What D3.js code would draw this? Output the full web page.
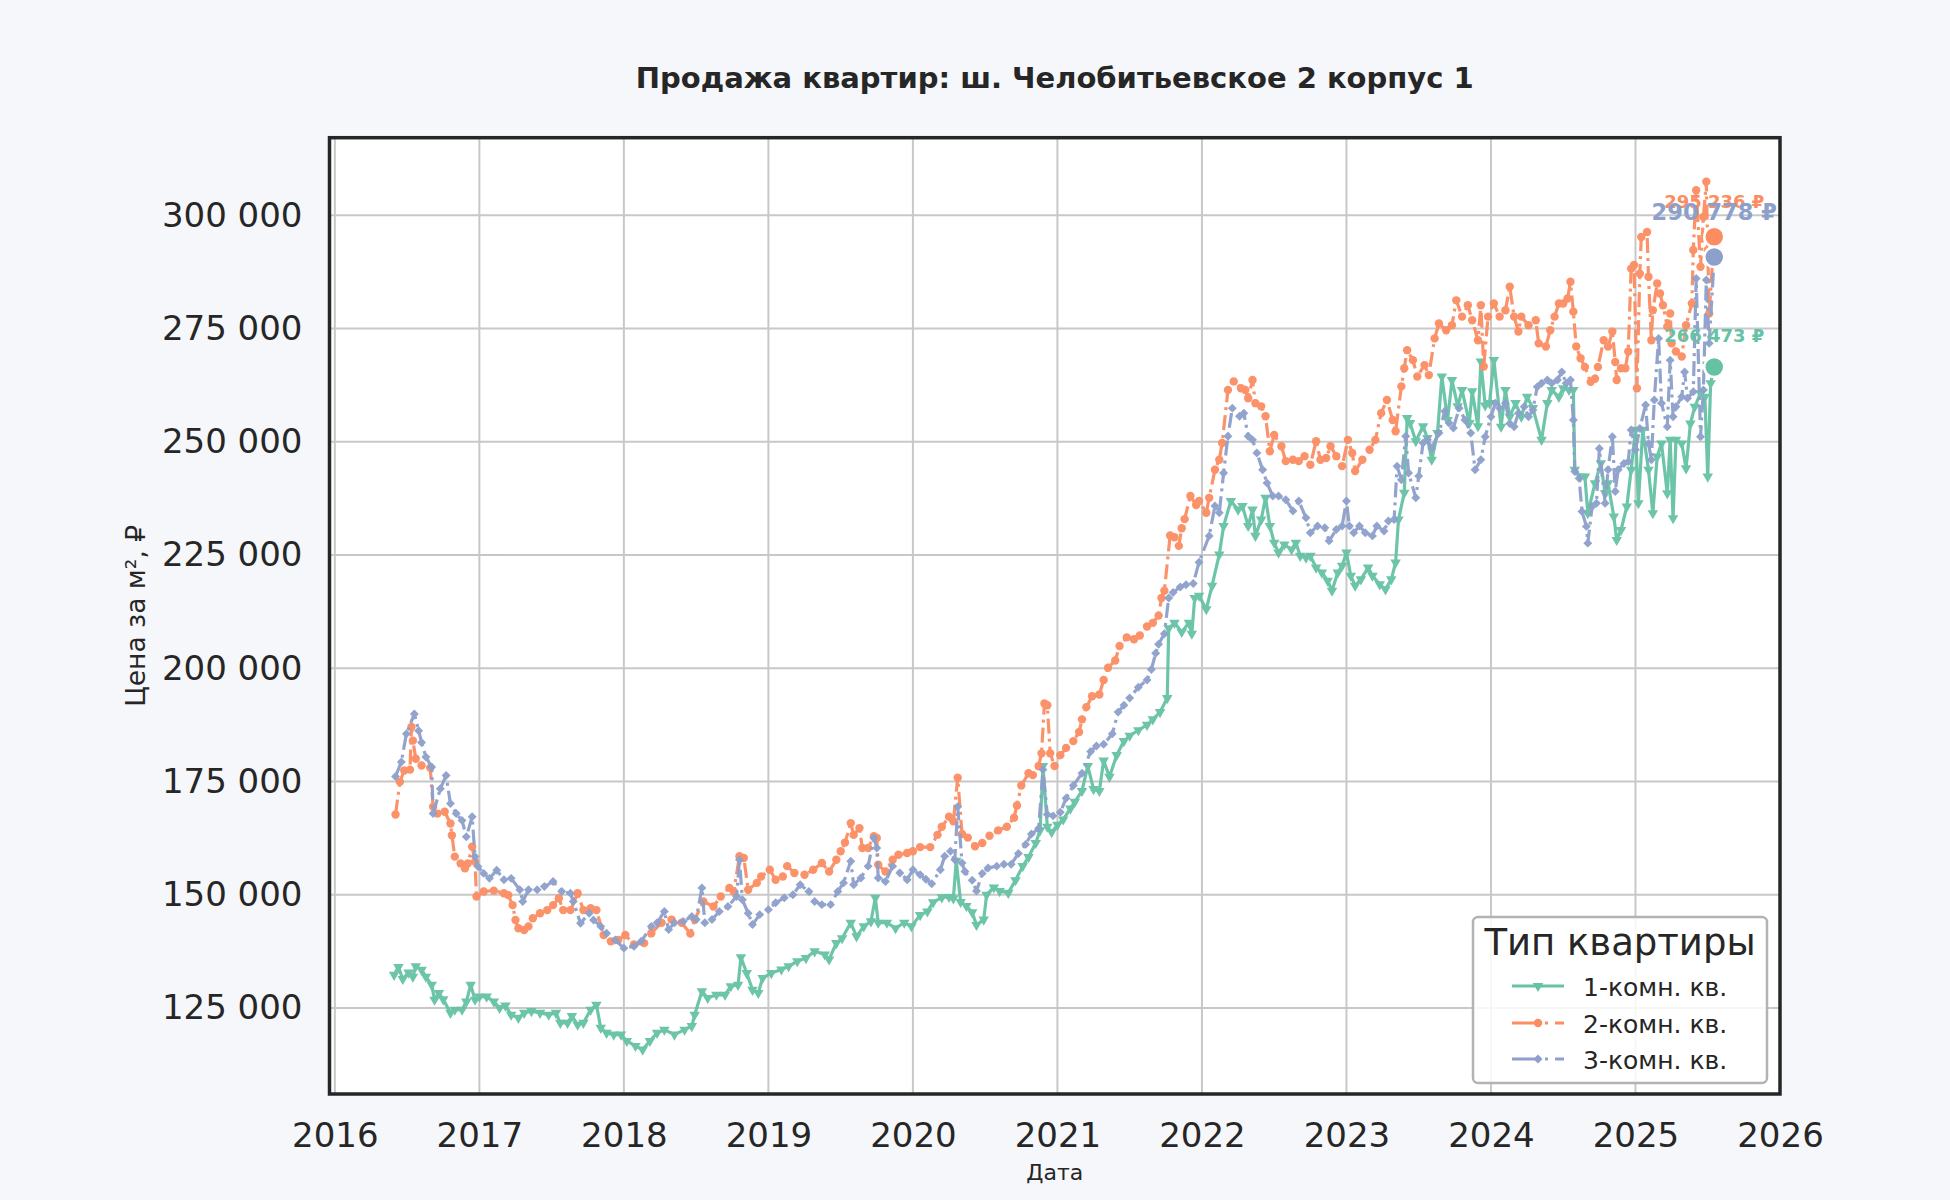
<!DOCTYPE html>
<html lang="ru">
  <head>
    <meta charset="UTF-8" />
    <title>Продажа квартир: ш. Челобитьевское 2 корпус 1</title>
    <style>
      body {
        margin: 0;
        background: #f6f7fa;
        font-family: "DejaVu Sans", sans-serif;
      }
    </style>
    <script src="https://d3js.org/d3.v7.min.js"></script>
  </head>
  <body>
  <script>

    // [year as fraction, price per m2]
    const room1 = [
      [2016.41,132300],[2016.44,134000],[2016.47,131400],[2016.51,132800],[2016.54,131900],[2016.56,134200],
      [2016.60,133400],[2016.63,131900],[2016.67,130100],[2016.69,126800],[2016.72,128300],[2016.75,126900],
      [2016.80,123900],[2016.83,124600],[2016.88,124600],[2016.91,126400],[2016.94,130100],[2016.97,126800],
      [2017.00,127500],[2017.05,127500],[2017.10,126400],[2017.14,125000],[2017.18,125500],[2017.22,123500],
      [2017.27,122800],[2017.31,123900],[2017.36,124300],[2017.42,123900],[2017.48,123500],[2017.53,123900],
      [2017.56,121700],[2017.61,121700],[2017.64,123200],[2017.68,121300],[2017.72,121700],[2017.77,124600],
      [2017.81,125700],[2017.84,120600],[2017.88,119500],[2017.93,119100],[2017.98,119100],[2018.02,117700],
      [2018.08,116600],[2018.13,115800],[2018.18,117700],[2018.23,119500],[2018.28,120200],[2018.35,119100],
      [2018.42,120200],[2018.47,121000],[2018.49,123500],[2018.54,128700],[2018.58,127200],[2018.64,127900],
      [2018.70,127900],[2018.74,129800],[2018.79,130100],[2018.81,136200],[2018.85,132700],[2018.89,129000],
      [2018.93,128300],[2018.96,131600],[2019.02,132700],[2019.09,133500],[2019.14,134200],[2019.20,135300],
      [2019.26,136000],[2019.32,137500],[2019.39,136800],[2019.42,135700],[2019.47,139300],[2019.51,140400],
      [2019.57,143800],[2019.61,140800],[2019.66,143000],[2019.71,144100],[2019.74,149300],[2019.76,143800],
      [2019.82,143800],[2019.88,142600],[2019.94,143800],[2019.99,143000],[2020.05,145500],[2020.10,146300],
      [2020.14,148300],[2020.20,149400],[2020.25,149500],[2020.28,149200],[2020.30,157500],[2020.33,148400],
      [2020.37,147500],[2020.41,146100],[2020.44,143300],[2020.49,144500],[2020.51,150000],[2020.56,151600],
      [2020.60,150800],[2020.66,150400],[2020.71,153200],[2020.76,156300],[2020.80,158300],[2020.85,161400],
      [2020.88,164200],[2020.90,178400],[2020.93,165000],[2020.96,163800],[2021.00,165400],[2021.04,166600],
      [2021.09,169000],[2021.12,170500],[2021.17,172900],[2021.21,178400],[2021.25,173300],[2021.29,172900],
      [2021.32,179600],[2021.36,176000],[2021.41,180800],[2021.46,183900],[2021.50,185100],[2021.56,186300],
      [2021.62,187500],[2021.66,188700],[2021.71,190300],[2021.76,193400],[2021.77,208800],[2021.81,210000],
      [2021.86,208000],[2021.91,210000],[2021.93,207600],[2021.95,215500],[2021.98,216000],[2022.03,213000],
      [2022.07,218200],[2022.12,225100],[2022.15,231400],[2022.20,236900],[2022.25,235000],[2022.28,235800],
      [2022.32,231400],[2022.35,235000],[2022.37,229200],[2022.41,232800],[2022.44,237600],[2022.47,231400],
      [2022.50,227700],[2022.53,225500],[2022.57,227300],[2022.62,226200],[2022.65,227700],[2022.68,224800],
      [2022.72,224400],[2022.75,224800],[2022.79,222200],[2022.83,221100],[2022.87,219300],[2022.90,217100],
      [2022.94,221100],[2022.97,222600],[2023.00,225500],[2023.03,220400],[2023.06,218200],[2023.10,219600],
      [2023.15,222200],[2023.18,220400],[2023.23,218500],[2023.27,217400],[2023.31,219600],[2023.34,223300],
      [2023.36,232800],[2023.40,238700],[2023.42,255200],[2023.44,254100],[2023.48,250100],[2023.53,253400],
      [2023.56,250800],[2023.59,246000],[2023.63,251900],[2023.66,264400],[2023.70,254800],[2023.73,263600],
      [2023.77,257800],[2023.80,261400],[2023.85,254100],[2023.87,261100],[2023.91,253400],[2023.93,267700],
      [2023.96,258000],[2023.99,258500],[2024.02,268000],[2024.07,253300],[2024.10,261400],[2024.13,255500],
      [2024.17,258500],[2024.21,255500],[2024.25,259900],[2024.29,257400],[2024.35,250400],[2024.39,258500],
      [2024.42,261400],[2024.47,259900],[2024.50,261800],[2024.54,261400],[2024.57,261400],[2024.58,243800],
      [2024.62,242300],[2024.65,242300],[2024.67,234200],[2024.72,240800],[2024.76,245200],[2024.79,238600],
      [2024.81,240800],[2024.85,233500],[2024.87,228300],[2024.90,230500],[2024.94,235700],[2024.97,243800],
      [2025.00,252600],[2025.02,236400],[2025.05,252600],[2025.09,243800],[2025.12,234200],[2025.15,246700],
      [2025.18,249600],[2025.22,238600],[2025.24,250400],[2025.26,233100],[2025.28,250400],[2025.32,249600],
      [2025.35,244100],[2025.38,254000],[2025.41,257700],[2025.45,260700],[2025.48,259900],[2025.50,242300],
      [2025.52,262900],[2025.545,266473]
    ]

    const room2 = [
      [2016.42,167700],[2016.45,174900],[2016.48,177400],[2016.52,177600],[2016.53,187000],[2016.54,184000],
      [2016.56,180000],[2016.60,178500],[2016.66,178000],[2016.68,169400],[2016.71,167900],[2016.76,168300],
      [2016.80,165700],[2016.81,163100],[2016.83,158400],[2016.87,156900],[2016.90,155800],[2016.92,156900],
      [2016.95,160600],[2016.97,157300],[2016.98,149600],[2017.03,150700],[2017.10,150900],[2017.17,150300],
      [2017.20,149900],[2017.23,147700],[2017.25,144400],[2017.27,142600],[2017.31,142200],[2017.34,143000],
      [2017.37,144800],[2017.42,145900],[2017.47,146600],[2017.51,147700],[2017.55,149200],[2017.58,146600],
      [2017.63,146600],[2017.68,150300],[2017.72,146600],[2017.77,147000],[2017.81,146600],[2017.86,141100],
      [2017.91,139700],[2017.96,140000],[2018.01,141100],[2018.07,139000],[2018.14,139300],[2018.19,141500],
      [2018.26,143800],[2018.33,144500],[2018.40,143800],[2018.46,141400],[2018.49,144500],[2018.55,148500],
      [2018.62,147400],[2018.67,149600],[2018.73,151500],[2018.76,150700],[2018.80,158500],[2018.83,158100],
      [2018.86,151100],[2018.92,152600],[2018.95,154000],[2019.01,155500],[2019.05,153300],[2019.10,154000],
      [2019.13,156300],[2019.18,154800],[2019.25,154400],[2019.31,155500],[2019.37,157000],[2019.42,155100],
      [2019.47,157700],[2019.50,159600],[2019.53,161500],[2019.57,165800],[2019.59,163200],[2019.63,164700],
      [2019.65,160300],[2019.69,160300],[2019.73,162900],[2019.75,162500],[2019.76,156600],[2019.81,155100],
      [2019.86,157700],[2019.90,158800],[2019.96,159200],[2020.00,159600],[2020.05,160500],[2020.12,160500],
      [2020.17,163200],[2020.20,165000],[2020.25,167200],[2020.28,166200],[2020.31,175800],[2020.34,163400],
      [2020.38,162600],[2020.43,160700],[2020.48,161400],[2020.53,163000],[2020.59,164200],[2020.65,165000],
      [2020.70,167000],[2020.72,169700],[2020.75,174100],[2020.80,176800],[2020.83,176400],[2020.87,178400],
      [2020.89,181200],[2020.91,192200],[2020.93,191800],[2020.95,181200],[2020.98,178400],[2021.02,180800],
      [2021.06,182400],[2021.11,183900],[2021.15,185900],[2021.17,188700],[2021.20,191400],[2021.24,193800],
      [2021.29,194200],[2021.32,197400],[2021.35,200100],[2021.40,201700],[2021.43,204900],[2021.48,206800],
      [2021.53,206400],[2021.57,207200],[2021.62,209200],[2021.66,210000],[2021.70,211600],[2021.72,215500],
      [2021.74,217100],[2021.78,229300],[2021.81,228900],[2021.84,227000],[2021.86,230900],[2021.88,232900],
      [2021.92,238000],[2021.96,236000],[2021.98,236900],[2022.03,234300],[2022.05,237600],[2022.09,243800],
      [2022.12,246000],[2022.14,249700],[2022.18,261400],[2022.22,263300],[2022.27,261800],[2022.30,261400],
      [2022.32,259600],[2022.35,263600],[2022.37,258500],[2022.41,257800],[2022.44,255600],[2022.47,247900],
      [2022.50,251500],[2022.55,249000],[2022.58,245700],[2022.63,246000],[2022.67,245700],[2022.71,246800],
      [2022.75,244900],[2022.79,250100],[2022.82,246000],[2022.86,246400],[2022.89,249000],[2022.93,246800],
      [2022.97,244600],[2023.01,250400],[2023.04,247500],[2023.06,243500],[2023.11,246000],[2023.16,248200],
      [2023.20,250400],[2023.24,256300],[2023.28,259200],[2023.32,254800],[2023.34,252300],[2023.38,262200],
      [2023.40,266200],[2023.42,270200],[2023.46,268000],[2023.49,264400],[2023.54,266900],[2023.57,264700],
      [2023.61,272800],[2023.64,276100],[2023.69,274600],[2023.73,275700],[2023.76,281200],[2023.80,277600],
      [2023.84,280100],[2023.87,276800],[2023.91,272400],[2023.93,280100],[2023.95,266600],[2023.98,277600],
      [2024.02,280500],[2024.06,277600],[2024.10,279000],[2024.13,284200],[2024.16,277600],[2024.19,274300],
      [2024.21,277600],[2024.26,275700],[2024.31,276800],[2024.33,271700],[2024.38,271000],[2024.41,274600],
      [2024.44,277600],[2024.47,280500],[2024.50,280500],[2024.53,281600],[2024.55,285300],[2024.57,278700],
      [2024.59,271000],[2024.62,268400],[2024.65,266500],[2024.69,263200],[2024.72,263900],[2024.74,266500],
      [2024.78,272400],[2024.81,271000],[2024.84,274300],[2024.86,267600],[2024.87,263600],[2024.90,266200],
      [2024.93,266200],[2024.95,269900],[2024.97,288200],[2024.99,289000],[2025.01,261800],[2025.03,287100],
      [2025.04,295200],[2025.08,296300],[2025.09,286400],[2025.11,272400],[2025.12,279000],[2025.15,284900],
      [2025.17,282700],[2025.19,280100],[2025.22,275400],[2025.24,278300],[2025.25,271700],[2025.28,269900],
      [2025.32,268800],[2025.35,275700],[2025.39,280500],[2025.40,292300],[2025.42,305500],[2025.45,288600],
      [2025.47,299600],[2025.49,307400],[2025.50,292300],[2025.51,278300],[2025.545,295236]
    ]

    const room3 = [
      [2016.42,176100],[2016.46,179300],[2016.495,185500],[2016.55,189900],[2016.58,186200],[2016.60,183600],
      [2016.63,180400],[2016.67,178200],[2016.68,167900],[2016.73,173400],[2016.77,176300],[2016.80,170100],
      [2016.84,167900],[2016.88,166400],[2016.91,162800],[2016.95,167200],[2016.97,158400],[2016.99,156200],
      [2017.03,154700],[2017.07,153600],[2017.12,155400],[2017.17,153300],[2017.22,153600],[2017.28,151100],
      [2017.30,148500],[2017.34,151100],[2017.40,151100],[2017.45,151800],[2017.51,152900],[2017.57,150700],
      [2017.63,150300],[2017.65,148500],[2017.70,143700],[2017.76,145900],[2017.79,144400],[2017.84,143000],
      [2017.88,141500],[2017.94,140000],[2018.00,138200],[2018.07,138600],[2018.12,139700],[2018.19,143000],
      [2018.23,143800],[2018.28,146300],[2018.31,142300],[2018.35,143800],[2018.41,144100],[2018.47,145200],
      [2018.50,144500],[2018.54,151500],[2018.56,143800],[2018.61,144500],[2018.66,146300],[2018.72,147400],
      [2018.78,149600],[2018.80,157700],[2018.82,148900],[2018.86,145900],[2018.89,143400],[2018.94,145600],
      [2019.00,146700],[2019.05,148200],[2019.11,149300],[2019.17,150000],[2019.22,152200],[2019.28,150700],
      [2019.32,148500],[2019.37,147800],[2019.43,147800],[2019.48,150700],[2019.52,152600],[2019.57,157400],
      [2019.59,152200],[2019.64,153700],[2019.69,156300],[2019.73,162500],[2019.75,160300],[2019.76,153700],
      [2019.81,152900],[2019.86,156300],[2019.91,154800],[2019.96,153300],[2020.00,155500],[2020.05,154400],
      [2020.09,153400],[2020.13,152400],[2020.19,155500],[2020.22,158500],[2020.26,159600],[2020.29,157700],
      [2020.31,169400],[2020.34,157000],[2020.36,155100],[2020.41,153200],[2020.44,150800],[2020.48,154700],
      [2020.52,155900],[2020.58,156300],[2020.63,156700],[2020.68,156700],[2020.73,159100],[2020.78,161100],
      [2020.82,163400],[2020.87,164600],[2020.90,177600],[2020.93,167700],[2020.97,167400],[2021.02,168200],
      [2021.06,171300],[2021.11,174100],[2021.17,176800],[2021.23,181600],[2021.27,182800],[2021.32,183200],
      [2021.38,185500],[2021.42,190300],[2021.46,191800],[2021.50,193400],[2021.56,195800],[2021.62,197400],
      [2021.65,199700],[2021.68,203300],[2021.70,205300],[2021.74,207600],[2021.77,215500],[2021.80,216700],
      [2021.85,217900],[2021.89,218400],[2021.94,218700],[2021.98,223400],[2022.05,229200],[2022.09,235800],
      [2022.12,234300],[2022.15,243100],[2022.18,251200],[2022.21,257400],[2022.26,255600],[2022.29,256300],
      [2022.32,251200],[2022.35,250400],[2022.38,247500],[2022.42,243800],[2022.45,240900],[2022.49,238000],
      [2022.53,238000],[2022.58,237200],[2022.63,234700],[2022.67,236900],[2022.72,233200],[2022.75,229900],
      [2022.80,231400],[2022.85,231000],[2022.88,228100],[2022.93,230600],[2022.97,231400],[2023.00,236900],
      [2023.02,231400],[2023.05,229900],[2023.09,231400],[2023.13,229900],[2023.18,229200],[2023.21,231400],
      [2023.26,230300],[2023.29,232500],[2023.33,232800],[2023.35,244600],[2023.38,241600],[2023.41,251200],
      [2023.43,243100],[2023.48,237600],[2023.50,242400],[2023.53,249700],[2023.56,250400],[2023.59,248600],
      [2023.64,251900],[2023.68,256700],[2023.71,254100],[2023.74,253000],[2023.78,257400],[2023.82,254800],
      [2023.86,251900],[2023.89,243800],[2023.93,246000],[2023.96,251100],[2024.00,255500],[2024.03,258500],
      [2024.06,257400],[2024.10,258500],[2024.13,254000],[2024.16,253300],[2024.19,256300],[2024.23,257700],
      [2024.26,255500],[2024.29,257000],[2024.32,262100],[2024.35,262900],[2024.39,263600],[2024.42,262900],
      [2024.46,263600],[2024.49,265400],[2024.52,262900],[2024.55,263600],[2024.57,254800],[2024.58,243400],
      [2024.61,241900],[2024.63,234600],[2024.66,231300],[2024.67,227600],[2024.70,235700],[2024.73,236400],
      [2024.75,248500],[2024.79,236400],[2024.81,243800],[2024.84,251100],[2024.86,239000],[2024.88,243800],
      [2024.92,245200],[2024.95,245600],[2024.97,252600],[2025.00,248200],[2025.03,252900],[2025.07,258100],
      [2025.09,249600],[2025.11,246000],[2025.13,259200],[2025.16,272800],[2025.18,258500],[2025.22,253300],
      [2025.24,268000],[2025.26,255500],[2025.28,257700],[2025.32,259900],[2025.34,265400],[2025.36,259600],
      [2025.40,261000],[2025.42,286000],[2025.45,251100],[2025.47,261400],[2025.49,285700],[2025.51,271700],
      [2025.545,290778]
    ]

    const seriesNames = ["1-комн. кв.", "2-комн. кв.", "3-комн. кв."]
    const seriesColors = ["#66c2a5", "#fc8d62", "#8da0cb"]
    const yearTicks = [2016, 2017, 2018, 2019, 2020, 2021, 2022, 2023, 2024, 2025, 2026]
    const priceTicks = [125000, 150000, 175000, 200000, 225000, 250000, 275000, 300000]

    const W = 1950, H = 1200
    const plotL = 329.5, plotR = 1780, plotT = 137.7, plotB = 1094

    const svg = d3.select("body").append("svg")
        .attr("width", W)
        .attr("height", H)
        .style("display", "block")
        .style("font-family", "'DejaVu Sans', sans-serif")

    svg.append("rect").attr("width", W).attr("height", H).attr("fill", "#f6f7fa")

    const x = d3.scaleLinear().domain([2015.963, 2026]).range([plotL, plotR])
    const y = d3.scaleLinear().domain([106000, 317100]).range([plotB, plotT])

    // plot background
    svg.append("rect")
        .attr("x", plotL).attr("y", plotT)
        .attr("width", plotR - plotL).attr("height", plotB - plotT)
        .attr("fill", "#ffffff")

    // grid
    const grid = svg.append("g")
    grid.selectAll("line.v").data(yearTicks).enter().append("line")
        .attr("x1", d => x(d)).attr("x2", d => x(d))
        .attr("y1", plotT).attr("y2", plotB)
        .attr("stroke", "#c8c8c8").attr("stroke-width", 2)
    grid.selectAll("line.h").data(priceTicks).enter().append("line")
        .attr("x1", plotL).attr("x2", plotR)
        .attr("y1", d => y(d)).attr("y2", d => y(d))
        .attr("stroke", "#c8c8c8").attr("stroke-width", 2)

    // axes
    const fmt = d => d3.format(",")(d).replace(/,/g, " ")
    svg.append("g")
        .attr("transform", `translate(0,${plotB})`)
        .call(d3.axisBottom(x).tickValues(yearTicks).tickFormat(d3.format("d")).tickSize(0).tickPadding(29))
    svg.append("g")
        .attr("transform", `translate(${plotL},0)`)
        .call(d3.axisLeft(y).tickValues(priceTicks).tickFormat(fmt).tickSize(0).tickPadding(27))
    svg.selectAll(".domain").remove()
    svg.selectAll(".tick text")
        .attr("font-size", "34px")
        .attr("fill", "#262626")
        .attr("font-family", "'DejaVu Sans', sans-serif")

    // series
    svg.append("clipPath").attr("id", "plot-clip")
      .append("rect").attr("x", plotL).attr("y", plotT).attr("width", plotR - plotL).attr("height", plotB - plotT)

    const plot = svg.append("g").attr("clip-path", "url(#plot-clip)")
    const line = d3.line().x(d => x(d[0])).y(d => y(d[1]))

    const dashes = [null, "15,5,3,5", "15,5,3,5"]
    const symbols = [
      d3.symbol().type(d3.symbolTriangle).size(48),
      null,
      d3.symbol().type(d3.symbolSquare).size(40)
    ]

    function drawMarker(g, i, cx, cy) {
      if (i === 1) {
        g.append("circle").attr("cx", cx).attr("cy", cy).attr("r", 4.2).attr("fill", seriesColors[i])
      } else {
        const rot = i === 0 ? 180 : 45
        g.append("path").attr("d", symbols[i]())
          .attr("transform", `translate(${cx},${cy}) rotate(${rot})`)
          .attr("fill", seriesColors[i])
      }
    }

    const allSeries = [room1, room2, room3]
    allSeries.forEach((data, i) => {
      const g = plot.append("g").attr("opacity", 0.95)
      g.append("path")
          .datum(data)
          .attr("fill", "none")
          .attr("stroke", seriesColors[i])
          .attr("stroke-width", 3.2)
          .attr("stroke-linejoin", "round")
          .attr("stroke-dasharray", dashes[i])
          .attr("d", line)
      data.forEach(d => drawMarker(g, i, x(d[0]), y(d[1])))
    })

    // last values
    const labelSizes = [18, 18, 22.5]
    const labelLift = [25, 29, 37]
    allSeries.forEach((data, i) => {
      const last = data[data.length - 1]
      svg.append("circle")
          .attr("cx", x(last[0])).attr("cy", y(last[1]))
          .attr("r", 10)
          .attr("fill", seriesColors[i])
          .attr("stroke", "#ffffff").attr("stroke-width", 2.5)
    })
    allSeries.forEach((data, i) => {
      const last = data[data.length - 1]
      svg.append("text")
          .attr("x", x(last[0])).attr("y", y(last[1]) - labelLift[i])
          .attr("text-anchor", "middle")
          .attr("font-size", labelSizes[i] + "px")
          .attr("font-weight", "bold")
          .attr("fill", seriesColors[i])
          .text(fmt(last[1]) + " ₽")
    })

    // frame
    svg.append("rect")
        .attr("x", plotL).attr("y", plotT)
        .attr("width", plotR - plotL).attr("height", plotB - plotT)
        .attr("fill", "none")
        .attr("stroke", "#262626").attr("stroke-width", 3.5)

    // titles
    svg.append("text")
        .attr("x", (plotL + plotR) / 2).attr("y", 88)
        .attr("text-anchor", "middle")
        .attr("font-size", "29px").attr("font-weight", "bold")
        .attr("fill", "#262626")
        .text("Продажа квартир: ш. Челобитьевское 2 корпус 1")

    svg.append("text")
        .attr("x", (plotL + plotR) / 2).attr("y", 1180)
        .attr("text-anchor", "middle")
        .attr("font-size", "22px")
        .attr("fill", "#262626")
        .text("Дата")

    svg.append("text")
        .attr("transform", `translate(145,${(plotT + plotB) / 2}) rotate(-90)`)
        .attr("text-anchor", "middle")
        .attr("font-size", "26.5px")
        .attr("fill", "#262626")
        .text("Цена за м², ₽")

    // legend
    const lg = svg.append("g")
    lg.append("rect")
        .attr("x", 1473).attr("y", 917).attr("width", 294).attr("height", 166)
        .attr("rx", 5)
        .attr("fill", "#ffffff").attr("fill-opacity", 0.85)
        .attr("stroke", "#b3b3b3").attr("stroke-width", 2.5)
    lg.append("text")
        .attr("x", 1620).attr("y", 955)
        .attr("text-anchor", "middle")
        .attr("font-size", "37px")
        .attr("fill", "#262626")
        .text("Тип квартиры")
    const rowY = [986, 1023, 1059]
    seriesNames.forEach((name, i) => {
      lg.append("line")
          .attr("x1", 1512).attr("x2", 1564)
          .attr("y1", rowY[i]).attr("y2", rowY[i])
          .attr("stroke", seriesColors[i]).attr("stroke-width", 3.2)
          .attr("stroke-dasharray", i === 0 ? null : "26,7,3,7")
      drawMarker(lg, i, 1538, rowY[i])
      lg.append("text")
          .attr("x", 1583).attr("y", rowY[i] + 9.5)
          .attr("font-size", "25px")
          .attr("fill", "#262626")
          .text(name)
    })
  </script>
  </body>
</html>
